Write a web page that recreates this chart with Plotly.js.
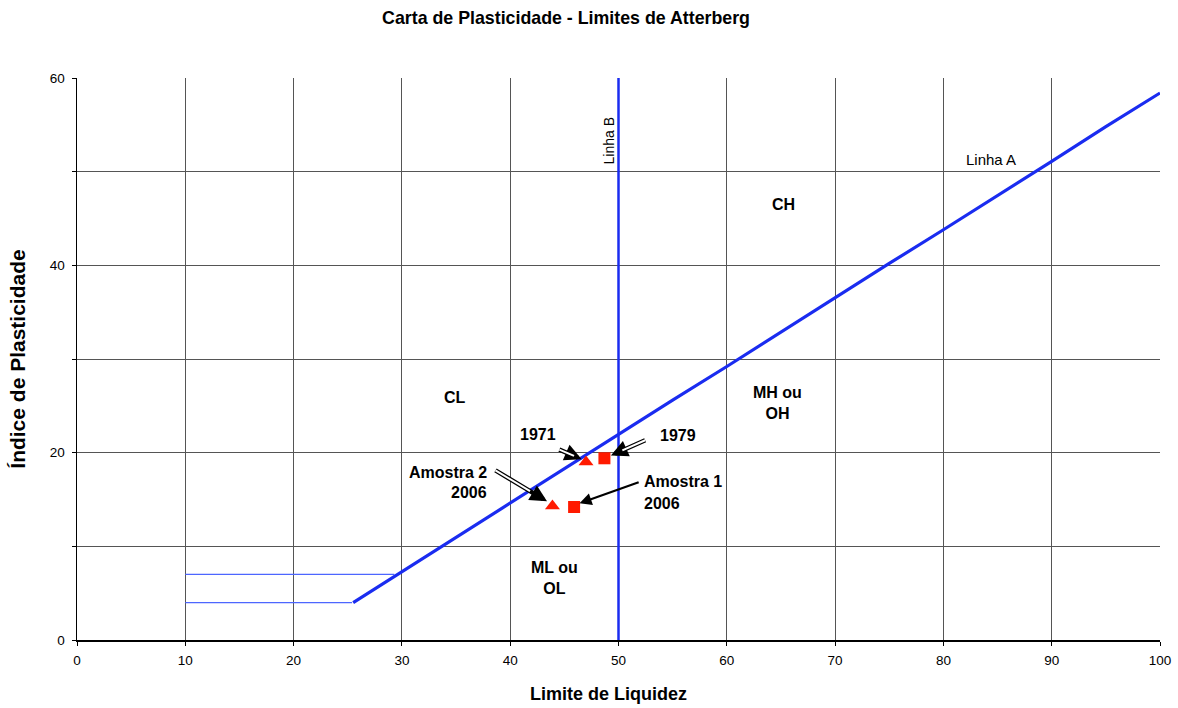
<!DOCTYPE html>
<html>
<head>
<meta charset="utf-8">
<script src="https://cdn.plot.ly/plotly-3.0.1.min.js"></script>
<style>html,body{margin:0;padding:0;background:#fff;}#chart{width:1178px;height:708px;}</style>
</head>
<body>
<div id="chart"></div>
<script>
// Linha A (limite de liquidez x índice de plasticidade)
const linhaA_LL = [25.5, 30, 35, 40, 45, 50, 55, 60, 65, 70, 75, 80, 85, 90, 95, 100];
const linhaA_IP = [4.0, 7.3, 10.9, 14.6, 18.3, 21.9, 25.6, 29.2, 32.9, 36.5, 40.2, 43.8, 47.5, 51.1, 54.8, 58.4];
// Linha B (LL = 50)
const linhaB_LL = [50, 50];
const linhaB_IP = [0, 60];
// Faixa CL-ML
const faixa4_LL = [10, 25.4];
const faixa4_IP = [4, 4];
const faixa7_LL = [10, 29.3];
const faixa7_IP = [7, 7];
// Amostras
const quad_LL = [48.7, 45.9];   // 1979, Amostra 1 2006
const quad_IP = [19.4, 14.2];
const tri_LL = [47.0, 43.9];    // 1971, Amostra 2 2006
const tri_IP = [19.0, 14.3];
// Regiões
const regioes = ['CL', 'CH', 'MH ou<br>OH', 'ML ou<br>OL'];
const regioes_LL = [34.9, 65.2, 64.7, 44.1];
const regioes_IP = [25.9, 46.5, 25.3, 6.6];
const xTicks = [0, 10, 20, 30, 40, 50, 60, 70, 80, 90, 100];
const yTicks = [0, 10, 20, 30, 40, 50, 60];
const yTickText = ['0', '', '20', '', '40', '', '60'];

const blue = '#1a2cf0';
const red = '#ff1a00';
const font = 'Liberation Sans, Arial, sans-serif';

const traces = [
  {x: faixa4_LL, y: faixa4_IP, mode: 'lines', line: {color: '#4d66ff', width: 1.3}, hoverinfo: 'skip'},
  {x: faixa7_LL, y: faixa7_IP, mode: 'lines', line: {color: '#4d66ff', width: 1.3}, hoverinfo: 'skip'},
  {x: linhaA_LL, y: linhaA_IP, mode: 'lines', line: {color: blue, width: 3.2}},
  {x: linhaB_LL, y: linhaB_IP, mode: 'lines', line: {color: blue, width: 2.5}},
  {x: quad_LL, y: quad_IP, mode: 'markers', marker: {symbol: 'square', size: 12, color: red}},
  {x: tri_LL, y: tri_IP, mode: 'markers', marker: {symbol: 'triangle-up', size: 13, color: red}}
];

const lblFont = {family: font, size: 16, color: '#000'};
const annotations = regioes.map((t, i) => ({
  x: regioes_LL[i], y: regioes_IP[i], text: '<b>' + t + '</b>', showarrow: false, font: lblFont
}));

// Rótulos das amostras
annotations.push(
  {x: 42.6, y: 21.9, text: '<b>1971</b>', showarrow: false, font: lblFont},
  {x: 55.5, y: 21.8, text: '<b>1979</b>', showarrow: false, font: lblFont},
  {x: 38.0, y: 17.9, text: '<b>Amostra 2</b>', showarrow: false, xanchor: 'right', font: lblFont},
  {x: 38.0, y: 15.7, text: '<b>2006</b>', showarrow: false, xanchor: 'right', font: lblFont},
  {x: 52.2, y: 16.9, text: '<b>Amostra 1</b>', showarrow: false, xanchor: 'left', font: lblFont},
  {x: 52.2, y: 14.6, text: '<b>2006</b>', showarrow: false, xanchor: 'left', font: lblFont},
  {x: 84.4, y: 51.3, text: 'Linha A', showarrow: false, font: {family: font, size: 15, color: '#000'}},
  {x: 49.1, y: 53.3, text: 'Linha B', showarrow: false, textangle: -90, font: {family: font, size: 14, color: '#000'}},
  // título do eixo X
  {xref: 'paper', yref: 'paper', x: 0.491, y: -0.096, xanchor: 'center', yanchor: 'middle', showarrow: false,
    text: '<b>Limite de Liquidez</b>', font: {family: font, size: 18, color: '#000'}}
);

// Setas: contorno preto com miolo branco (setas vazadas) e uma seta cheia
function seta(x0, y0, x1, y1, vazada) {
  annotations.push({x: x1, y: y1, ax: x0, ay: y0, axref: 'x', ayref: 'y',
    text: '', showarrow: true, arrowhead: 2, arrowsize: vazada ? 0.75 : 1.1, arrowwidth: vazada ? 4.5 : 2.2, arrowcolor: '#000'});
  if (vazada) {
    const f = 0.68;
    annotations.push({x: x0 + (x1 - x0) * f, y: y0 + (y1 - y0) * f, ax: x0, ay: y0, axref: 'x', ayref: 'y',
      text: '', showarrow: true, arrowhead: 0, arrowwidth: 2, arrowcolor: '#fff'});
  }
}
seta(44.4, 20.4, 46.6, 19.3, true);
seta(52.6, 21.4, 49.3, 19.7, true);
seta(38.5, 18.2, 43.4, 14.8, true);
seta(52.0, 16.9, 46.4, 14.6, false);

const layout = {
  width: 1178, height: 708,
  margin: {l: 77, r: 18, t: 78, b: 68},
  paper_bgcolor: '#fff', plot_bgcolor: '#fff',
  showlegend: false,
  title: {text: '<b>Carta de Plasticidade - Limites de Atterberg</b>', x: 0.4805, xanchor: 'center', y: 0.975, yanchor: 'middle',
    font: {family: font, size: 17.8, color: '#000'}},
  xaxis: {range: [0, 100], tickmode: 'array', tickvals: xTicks, showgrid: true, gridcolor: '#555', gridwidth: 1,
    zeroline: false, showline: true, linecolor: '#000', linewidth: 1.5, ticks: 'outside', ticklen: 4, tickcolor: '#000',
    ticklabelstandoff: 3, tickfont: {family: font, size: 13.5, color: '#000'}},
  yaxis: {range: [0, 60], tickmode: 'array', tickvals: yTicks, ticktext: yTickText, showgrid: true, gridcolor: '#555', gridwidth: 1,
    zeroline: false, showline: true, linecolor: '#000', linewidth: 1.5, ticks: 'outside', ticklen: 4, tickcolor: '#000',
    ticklabelstandoff: 4, tickfont: {family: font, size: 13.5, color: '#000'},
    title: {text: '<b>Índice de Plasticidade</b>', font: {family: font, size: 21, color: '#000'}, standoff: 18}},
  annotations: annotations
};

Plotly.newPlot('chart', traces, layout, {staticPlot: true, displayModeBar: false});
</script>
</body>
</html>
